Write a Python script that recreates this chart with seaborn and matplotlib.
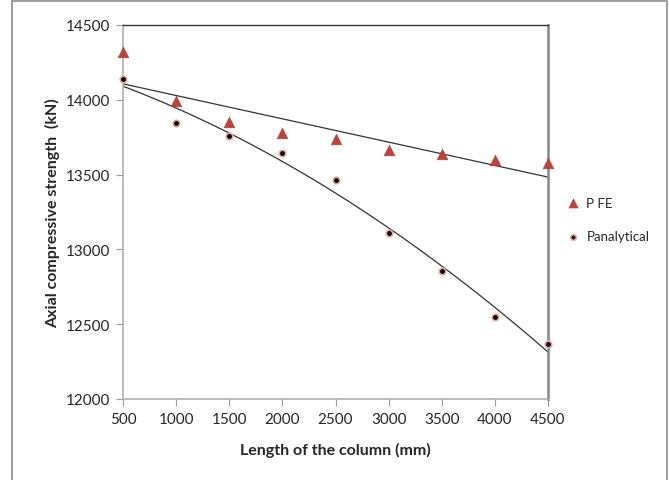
import matplotlib
matplotlib.use('Agg')
import matplotlib.pyplot as plt
import matplotlib.patches as patches
import seaborn as sns
import pandas as pd

# values
column_length = [500, 1000, 1500, 2000, 2500, 3000, 3500, 4000, 4500]
p_fe = [14320, 13990, 13850, 13780, 13735, 13665, 13635, 13600, 13580]
p_analytical = [14140, 13845, 13760, 13645, 13465, 13110, 12855, 12545, 12370]
y_ticks = [12000, 12500, 13000, 13500, 14000, 14500]
x_ticks = [500, 1000, 1500, 2000, 2500, 3000, 3500, 4000, 4500]

df = pd.DataFrame({'length': column_length, 'pfe': p_fe, 'pan': p_analytical})

sns.set_style('white')
plt.rcParams['font.family'] = ['Lato', 'DejaVu Sans']

fig = plt.figure(figsize=(6.69, 4.81), dpi=100)
ax = fig.add_axes([123 / 669, 1 - 400 / 481, 425 / 669, 374 / 481])

# outer chart-area border
fig.patches.append(patches.Rectangle((12 / 669, -0.1), 655 / 669, 1.1 - 2 / 481,
                                     transform=fig.transFigure, fill=False,
                                     edgecolor='#8c8c8c', linewidth=1.2))

# trend lines (linear for FE, 2nd order for analytical)
sns.regplot(data=df, x='length', y='pfe', order=1, scatter=False, ci=None,
            ax=ax, line_kws={'color': '#333333', 'linewidth': 0.9})
sns.regplot(data=df, x='length', y='pan', order=2, scatter=False, ci=None,
            ax=ax, line_kws={'color': '#333333', 'linewidth': 0.9})

sns.scatterplot(data=df, x='length', y='pfe', marker='^', s=58, color='#B8433F',
                edgecolor='#B8433F', linewidth=0.5, ax=ax, label='P FE',
                zorder=3, clip_on=False)
sns.scatterplot(data=df, x='length', y='pan', marker='o', s=22, color='black',
                edgecolor='#E8A8A8', linewidth=1.2, ax=ax, label='Panalytical',
                zorder=3, clip_on=False)

ax.set_xlim(500, 4500)
ax.set_ylim(12000, 14500)
ax.set_xticks(x_ticks)
ax.set_yticks(y_ticks)
ax.tick_params(axis='both', labelsize=11, length=5, color='#999999', pad=4,
               direction='out', bottom=True, left=True)
ax.set_xlabel('Length of the column (mm)', fontsize=11.5, fontweight='bold', labelpad=12)
ax.set_ylabel('Axial compressive strength  (kN)', fontsize=11.5, fontweight='bold', labelpad=4)

for side in ['left', 'bottom']:
    ax.spines[side].set_color('#b0b0b0')
    ax.spines[side].set_linewidth(1.2)
ax.spines['top'].set_color('#333333')
ax.spines['top'].set_linewidth(1.0)
ax.spines['right'].set_color('#888888')
ax.spines['right'].set_linewidth(1.8)

ax.legend(loc='center left', bbox_to_anchor=(1.0, 0.48), frameon=False,
          fontsize=9.5, handletextpad=0.0, labelspacing=1.6, markerscale=0.85)

fig.savefig('out.png', dpi=100)
